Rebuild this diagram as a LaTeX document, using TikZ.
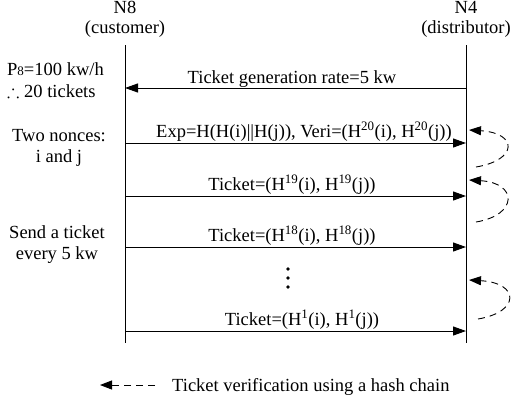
\documentclass[tikz,border=0pt]{standalone}
\usepackage{fontspec}
\setmainfont{Liberation Serif}
\usepackage{amssymb}
\usetikzlibrary{arrows.meta}
\begin{document}
\begin{tikzpicture}[x=1pt,y=-1pt,
  txt/.style={font=\fontsize{18.5}{22}\selectfont, inner sep=0pt, anchor=base},
  life/.style={line width=1pt},
  msg/.style={line width=1pt, -{Triangle[length=13pt,width=9pt]}},
  verify/.style={line width=0.9pt, dash pattern=on 7pt off 5pt, -{Triangle[length=12pt,width=9pt]}}]
\useasboundingbox (0,0) rectangle (513,402);

% participants
\node[txt] (n8) at (125,13.5) {N8};
\node[txt] (n8r) at (125,33) {(customer)};
\node[txt] (n4) at (466,13.5) {N4};
\node[txt] (n4r) at (466,33) {(distributor)};

% lifelines
\coordinate (cT) at (125,45); \coordinate (cB) at (125,343);
\coordinate (dT) at (466,45); \coordinate (dB) at (466,343);
\draw[life] (cT) -- (cB);
\draw[life] (dT) -- (dB);

% message end points
\foreach \n/\y in {1/88,2/143,3/196,4/247,5/331}{
  \coordinate (c\n) at (125,\y);
  \coordinate (d\n) at (466,\y);
}
\draw[msg] (d1) -- (c1);
\draw[msg] (c2) -- (d2);
\draw[msg] (c3) -- (d3);
\draw[msg] (c4) -- (d4);
\draw[msg] (c5) -- (d5);

% message labels
\node[txt] (m1) at (292,83) {Ticket generation rate=5 kw};
\node[txt] (m2) at (304,137) {Exp=H(H(i)||H(j)), Veri=(H\textsuperscript{20}(i), H\textsuperscript{20}(j))};
\node[txt] (m3) at (292,190) {Ticket=(H\textsuperscript{19}(i), H\textsuperscript{19}(j))};
\node[txt] (m4) at (292,241) {Ticket=(H\textsuperscript{18}(i), H\textsuperscript{18}(j))};
\node[txt] (m5) at (302,325) {Ticket=(H\textsuperscript{1}(i), H\textsuperscript{1}(j))};

% vertical ellipsis
\foreach \y in {269,278,287} \fill (288,\y) circle (1.9);

% side notes
\node[txt, anchor=base west] (p1) at (7,75) {P{\fontsize{13}{15}\selectfont 8}=100 kw/h};
\node[txt, anchor=base west] (p2) at (7,97) {$\therefore$ 20 tickets};
\node[txt] (p3) at (59,141) {Two nonces:};
\node[txt] (p4) at (59,162) {i and j};
\node[txt] (p5) at (57,238) {Send a ticket};
\node[txt] (p6) at (57,259) {every 5 kw};

% hash chain verification loops
\coordinate (v1t) at (476,167); \coordinate (v1h) at (469,130);
\coordinate (v2t) at (476,222); \coordinate (v2h) at (469,180);
\coordinate (v3t) at (478,319); \coordinate (v3h) at (469,280);
\draw[verify] (v1t) .. controls (518,160) and (518,133) .. (v1h);
\draw[verify] (v2t) .. controls (518,215) and (518,183) .. (v2h);
\draw[verify] (v3t) .. controls (520,312) and (520,283) .. (v3h);

% legend
\coordinate (lt) at (155,385); \coordinate (lh) at (100,385);
\draw[verify] (lt) -- (lh);
\node[txt, anchor=base west] (lg) at (172,391) {Ticket verification using a hash chain};
\end{tikzpicture}
\end{document}
